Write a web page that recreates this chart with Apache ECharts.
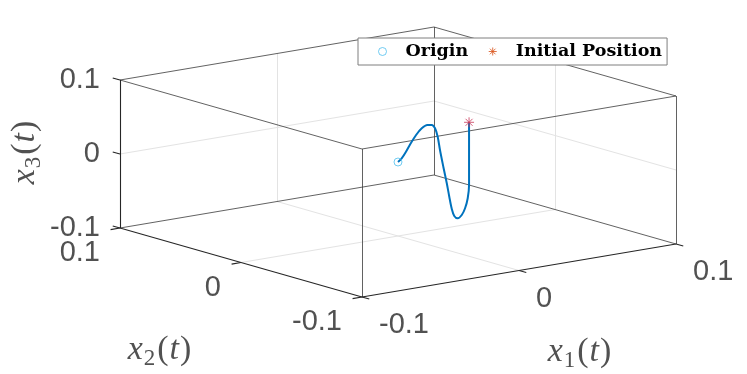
<!DOCTYPE html>
<html>
<head>
<meta charset="utf-8">
<script src="https://cdn.jsdelivr.net/npm/echarts@6/dist/echarts.min.js"></script>
<style>
  html, body { margin: 0; padding: 0; background: #fff; }
  #main { width: 747px; height: 374px; }
</style>
</head>
<body>
<div id="main"></div>
<script>
// axis limits and ticks (same for x1, x2, x3)
const axisLim = [-0.1, 0.1];
const tickVals = [-0.1, 0, 0.1];
const tickLabels = ['-0.1', '0', '0.1'];

// trajectory, from the initial position to the origin
const x1Data = [0.0535, 0.0535, 0.0535, 0.0525, 0.0505, 0.0480, 0.0450, 0.0424, 0.0404, 0.0386, 0.0367, 0.0341,
  0.0316, 0.0299, 0.0279, 0.0254, 0.0221, 0.0179, 0.0136, 0.0096, 0.0060, 0.0028, 0];
const x2Data = [0.0107, 0.0107, 0.0107, 0.0105, 0.0101, 0.0096, 0.0090, 0.0085, 0.0081, 0.0077, 0.0073, 0.0068,
  0.0063, 0.0060, 0.0056, 0.0051, 0.0044, 0.0036, 0.0027, 0.0019, 0.0012, 0.0006, 0];
const x3Data = [0.0295, -0.0079, -0.0552, -0.0727, -0.0853, -0.0933, -0.0964, -0.0921, -0.0808, -0.0643, -0.0453, -0.0217,
  0.0019, 0.0207, 0.0330, 0.0385, 0.0400, 0.0375, 0.0304, 0.0210, 0.0112, 0.0037, 0];

const originPt = [0, 0, 0];
const initPt = [x1Data[0], x2Data[0], x3Data[0]];

// view: screen displacement (px, y down) per unit of x1, x2, x3
const e1 = [1570, -265], e2 = [-1210, -345], e3 = [0, -740];
function proj(p) {
  return [e1[0] * p[0] + e2[0] * p[1] + e3[0] * p[2],
          -(e1[1] * p[0] + e2[1] * p[1] + e3[1] * p[2])];
}

const lo = axisLim[0], hi = axisLim[1];
const axisColor = '#262626';

// box edges: 3 axis lines + the rest of the box
const axisEdges = [
  [[lo, hi, lo], [lo, hi, hi]],  // x3 axis
  [[lo, lo, lo], [lo, hi, lo]],  // x2 axis
  [[lo, lo, lo], [hi, lo, lo]]   // x1 axis
];
const boxEdges = [
  [[hi, lo, lo], [hi, hi, lo]], [[lo, hi, lo], [hi, hi, lo]],
  [[lo, lo, hi], [hi, lo, hi]], [[hi, lo, hi], [hi, hi, hi]],
  [[hi, hi, hi], [lo, hi, hi]], [[lo, hi, hi], [lo, lo, hi]],
  [[lo, lo, lo], [lo, lo, hi]], [[hi, lo, lo], [hi, lo, hi]], [[hi, hi, lo], [hi, hi, hi]]
];
// grid lines on back walls and floor
const gridEdges = [];
tickVals.forEach(function (t) {
  if (t === lo || t === hi) return;
  gridEdges.push([[lo, hi, t], [hi, hi, t]], [[hi, hi, t], [hi, lo, t]]);
  gridEdges.push([[t, hi, lo], [t, hi, hi]], [[t, hi, lo], [t, lo, lo]]);
  gridEdges.push([[hi, t, lo], [hi, t, hi]], [[lo, t, lo], [hi, t, lo]]);
});
// tick marks
const tk = 0.006;
const tickEdges = [];
tickVals.forEach(function (t) {
  tickEdges.push([[lo, hi, t], [lo, hi + tk, t]]);
  tickEdges.push([[lo, t, lo], [lo - tk, t, lo]]);
  tickEdges.push([[t, lo, lo], [t, lo - tk, lo]]);
});

function toLines(list) {
  return list.map(function (e) { return { coords: [proj(e[0]), proj(e[1])] }; });
}

const tickFont = { fontFamily: 'Liberation Sans', fontSize: 29, color: axisColor };
function tickLabelSeries(pointOf, align, offset) {
  return {
    type: 'scatter', symbolSize: 0, silent: true, z: 5,
    data: tickVals.map(function (t, i) { return { value: proj(pointOf(t)), name: tickLabels[i] }; }),
    label: Object.assign({
      show: true, position: 'inside', align: align, verticalAlign: 'middle', offset: offset,
      formatter: function (p) { return p.name; }
    }, tickFont)
  };
}

const titleRich = {
  i: { fontFamily: 'Liberation Serif', fontStyle: 'italic', fontSize: 34, color: axisColor, lineHeight: 40 },
  n: { fontFamily: 'Liberation Serif', fontSize: 34, color: axisColor, lineHeight: 40, padding: [0, 1, 0, 1] },
  s: { fontFamily: 'Liberation Serif', fontSize: 23, color: axisColor, lineHeight: 40, verticalAlign: 'bottom', padding: [0, 1, 0, 1] }
};
function titleSeries(pt, sub, offset, rotate) {
  return {
    type: 'scatter', symbolSize: 0, silent: true, z: 5,
    data: [{ value: proj(pt), name: sub }],
    label: {
      show: true, position: 'inside', align: 'center', verticalAlign: 'middle',
      offset: offset, rotate: rotate || 0, rich: titleRich,
      formatter: '{i|x}{s|' + sub + '}{n|(}{i|t}{n|)}'
    }
  };
}

const starPath = 'path://M0,-10L0,10M-10,0L10,0M-7,-7L7,7M-7,7L7,-7';

const chart = echarts.init(document.getElementById('main'));
chart.setOption({
  animation: false,
  backgroundColor: '#fff',
  grid: { left: 0, top: 0, width: 747, height: 374 },
  xAxis: { type: 'value', min: -398, max: 349, show: false },
  yAxis: { type: 'value', min: -212, max: 162, show: false },
  legend: {
    left: 358, top: 38,
    padding: [4, 5, 4, 20],
    itemWidth: 14, itemHeight: 8, itemGap: 20,
    backgroundColor: '#fff', borderColor: '#7f7f7f', borderWidth: 1,
    selectedMode: false,
    textStyle: { fontFamily: 'DejaVu Serif', fontWeight: 'bold', fontSize: 17.5, color: '#000', lineHeight: 19, padding: [0, 0, 0, 11] },
    data: [
      { name: 'Origin', icon: 'circle', itemStyle: { color: 'rgba(0,0,0,0)', borderColor: '#4DBEEE', borderWidth: 1 } },
      { name: 'Initial Position', icon: starPath, itemStyle: { color: 'rgba(0,0,0,0)', borderColor: '#D95319', borderWidth: 1 } }
    ]
  },
  series: [
    { type: 'lines', coordinateSystem: 'cartesian2d', silent: true, z: 1,
      data: toLines(gridEdges), lineStyle: { color: '#e3e3e3', width: 1, opacity: 1 } },
    { type: 'lines', coordinateSystem: 'cartesian2d', silent: true, z: 2,
      data: toLines(boxEdges), lineStyle: { color: '#3a3a3a', width: 0.8, opacity: 1 } },
    { type: 'lines', coordinateSystem: 'cartesian2d', silent: true, z: 2,
      data: toLines(axisEdges.concat(tickEdges)), lineStyle: { color: axisColor, width: 1.1, opacity: 1 } },
    tickLabelSeries(function (t) { return [lo, hi, t]; }, 'right', [-20, 0]),
    tickLabelSeries(function (t) { return [lo, t, lo]; }, 'right', [-20, 25]),
    tickLabelSeries(function (t) { return [t, lo, lo]; }, 'left', [17, 28]),
    titleSeries([0, lo, lo], '1', [61, 82]),
    titleSeries([lo, 0, lo], '2', [-81, 88]),
    titleSeries([lo, hi, 0], '3', [2, -95], 90),
    {
      type: 'line', name: 'trajectory', z: 3, showSymbol: false, smooth: 0.3,
      data: x1Data.map(function (v, i) { return proj([v, x2Data[i], x3Data[i]]); }),
      lineStyle: { color: '#0072BD', width: 2 }
    },
    {
      type: 'scatter', name: 'Origin', z: 4, symbol: 'circle', symbolSize: 8,
      data: [proj(originPt)],
      itemStyle: { color: 'rgba(0,0,0,0)', borderColor: '#4DBEEE', borderWidth: 1 }
    },
    {
      type: 'scatter', name: 'Initial Position', z: 4, symbol: starPath, symbolSize: 10,
      data: [proj(initPt)],
      itemStyle: { color: 'rgba(0,0,0,0)', borderColor: '#C8385A', borderWidth: 1 }
    }
  ]
});
</script>
</body>
</html>
